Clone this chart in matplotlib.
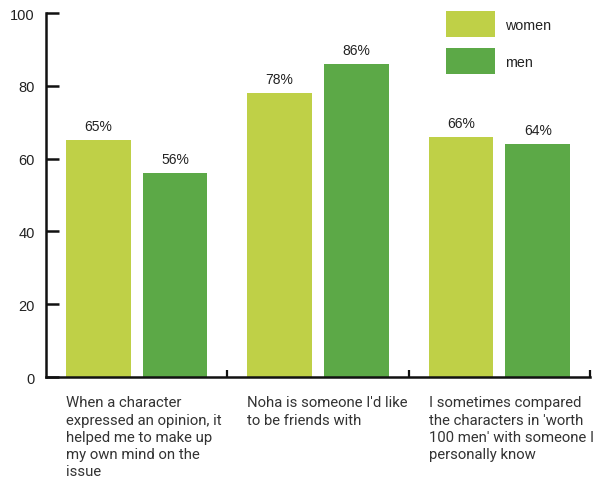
import matplotlib
matplotlib.use("Agg")
import matplotlib.pyplot as plt
from matplotlib.patches import Patch
import numpy as np

questions = [
    "When a character\nexpressed an opinion, it\nhelped me to make up\nmy own mind on the\nissue",
    "Noha is someone I'd like\nto be friends with",
    "I sometimes compared\nthe characters in 'worth\n100 men' with someone I\npersonally know",
]
women = [65, 78, 66]
men = [56, 86, 64]
series_names = ["women", "men"]
colors = ["#bfd047", "#5ca947"]

fig = plt.figure(figsize=(5.93, 4.85), dpi=100)
ax = fig.add_axes([0.0776, 0.2206, 0.9174, 0.7505])

x = np.arange(len(questions)) + 0.5
w = 0.357
off = 0.212
b1 = ax.bar(x - off, women, w, color=colors[0])
b2 = ax.bar(x + off, men, w, color=colors[1])

for bars, vals in ((b1, women), (b2, men)):
    for b, v in zip(bars, vals):
        ax.annotate(f"{v}%", (b.get_x() + b.get_width() / 2, v),
                    xytext=(0, 5), textcoords="offset points",
                    ha="center", va="bottom", fontsize=10,
                    family="Liberation Sans", color="#222222")

# question text under each group, left aligned with first bar
for xi, q in zip(x, questions):
    ax.text(xi - off - w / 2, -0.05, q, transform=ax.get_xaxis_transform(),
            ha="left", va="top", fontsize=10.7, family="Roboto",
            color="#333333", linespacing=1.3)

ax.set_xlim(0, 3)
ax.set_ylim(0, 100)
ax.set_xticks([1, 2, 3])
ax.set_xticklabels([])
ax.set_yticks([0, 20, 40, 60, 80, 100])
ax.tick_params(axis="x", direction="in", length=5, width=1.6, color="#111111")
ax.tick_params(axis="y", direction="in", length=9.5, width=1.8, pad=8,
               labelsize=10.5, color="#111111", labelcolor="#222222")
for lbl in ax.get_yticklabels():
    lbl.set_family("Liberation Sans")

for s in ["top", "right"]:
    ax.spines[s].set_visible(False)
for s in ["left", "bottom"]:
    ax.spines[s].set_linewidth(1.8)
    ax.spines[s].set_color("#111111")

handles = [Patch(facecolor=c, edgecolor="none") for c in colors]
leg = fig.legend(handles, series_names, loc="upper left",
                 bbox_to_anchor=(0.752, 0.975), frameon=False,
                 handlelength=3.45, handleheight=2.45, labelspacing=0.75,
                 handletextpad=0.65, borderpad=0, borderaxespad=0,
                 prop={"family": "Liberation Sans", "size": 10.3})
for t in leg.get_texts():
    t.set_color("#222222")

fig.savefig("out.png", dpi=100)
